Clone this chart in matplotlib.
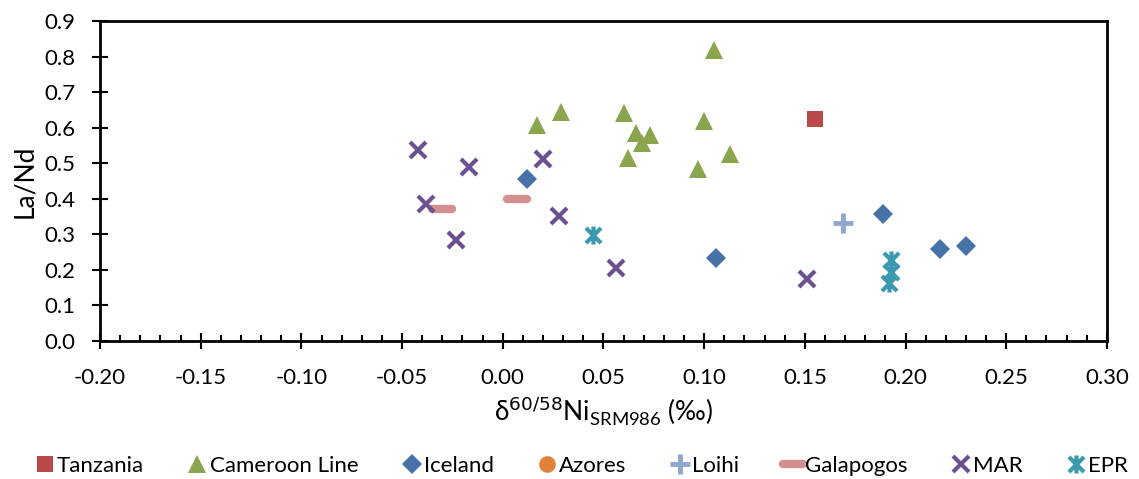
import numpy as np
import matplotlib
matplotlib.use('Agg')
import matplotlib.pyplot as plt
from matplotlib.path import Path
from matplotlib.markers import MarkerStyle
from matplotlib.ticker import MultipleLocator, FormatStrFormatter

plt.rcParams['font.family'] = ['Lato', 'DejaVu Sans']

# 数据
tanzania_x = [0.155]
tanzania_y = [0.625]

cameroon_x = [0.105, 0.029, 0.017, 0.060, 0.100, 0.066, 0.073, 0.069, 0.062, 0.113, 0.097]
cameroon_y = [0.818, 0.644, 0.607, 0.641, 0.619, 0.585, 0.579, 0.557, 0.515, 0.526, 0.484]

iceland_x = [0.012, 0.106, 0.189, 0.217, 0.230]
iceland_y = [0.456, 0.233, 0.357, 0.259, 0.267]

azores_x = []
azores_y = []

loihi_x = [0.169]
loihi_y = [0.332]

galapogos_x = [-0.030, 0.007]
galapogos_y = [0.371, 0.399]

mar_x = [-0.042, -0.017, 0.020, -0.038, 0.028, -0.023, 0.056, 0.151]
mar_y = [0.537, 0.489, 0.512, 0.385, 0.352, 0.284, 0.205, 0.174]

epr_x = [0.045, 0.193, 0.193, 0.192]
epr_y = [0.298, 0.228, 0.194, 0.163]

# 星形标记 (x + 竖线)
star = Path([(-1, -1), (1, 1), (-1, 1), (1, -1), (0, -1.2), (0, 1.2)],
            [Path.MOVETO, Path.LINETO, Path.MOVETO, Path.LINETO, Path.MOVETO, Path.LINETO])

fig = plt.figure(figsize=(11.39, 4.79), dpi=100)
ax = fig.add_axes([0.0878, 0.288, 0.884, 0.668])

ax.plot(tanzania_x, tanzania_y, 's', color='#b94a48', ms=12, mew=0, label='Tanzania')
ax.plot(cameroon_x, cameroon_y, '^', color='#8aa54d', ms=13, mew=0, label='Cameroon Line')
ax.plot(iceland_x, iceland_y, 'D', color='#4672a8', ms=10, mew=0, label='Iceland')
ax.plot(azores_x, azores_y, 'o', color='#e2823a', ms=12, mew=0, label='Azores')
ax.plot(loihi_x, loihi_y, '+', color='#8fa8d0', ms=15, mew=3.5, label='Loihi')
ax.plot(galapogos_x, galapogos_y, linestyle='none', marker=MarkerStyle('_', capstyle='round'),
        color='#d38f8d', ms=14, mew=6, label='Galapogos')
ax.plot(mar_x, mar_y, 'x', color='#6c5192', ms=12, mew=3, label='MAR')
ax.plot(epr_x, epr_y, linestyle='none', marker=star, color='#3c9ab0', ms=13, mew=3,
        markerfacecolor='none', label='EPR')

ax.set_xlim(-0.2, 0.3)
ax.set_ylim(0, 0.9)
ax.xaxis.set_major_locator(MultipleLocator(0.05))
ax.xaxis.set_minor_locator(MultipleLocator(0.01))
ax.yaxis.set_major_locator(MultipleLocator(0.1))
ax.xaxis.set_major_formatter(FormatStrFormatter('%.2f'))
ax.yaxis.set_major_formatter(FormatStrFormatter('%.1f'))

ax.tick_params(axis='both', which='major', direction='inout', length=11.5, width=1.5,
               labelsize=16, top=False, right=False)
ax.tick_params(axis='x', which='major', pad=14)
ax.tick_params(axis='y', which='major', pad=12)
ax.tick_params(axis='x', which='minor', direction='in', length=4.5, width=1.5)
for s in ax.spines.values():
    s.set_linewidth(2)
    s.set_color('black')

ax.set_xlabel(r'δ$^{60/58}$Ni$_{\mathregular{SRM986}}$ (‰)', fontsize=19, labelpad=4)
ax.set_ylabel('La/Nd', fontsize=19, labelpad=5)

fig.legend(loc='lower center', bbox_to_anchor=(0.51, -0.035), ncol=8, frameon=False,
           fontsize=16, handletextpad=0.05, columnspacing=1.9, handlelength=1.0)

plt.savefig('out.png', dpi=100)
